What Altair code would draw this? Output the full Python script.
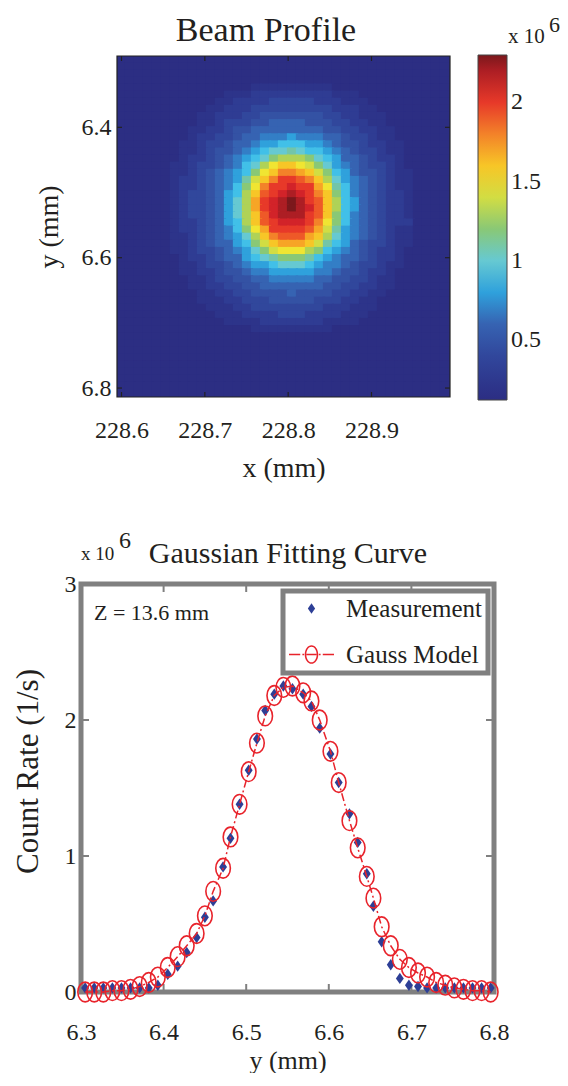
import altair as alt
import pandas as pd

FONT = "Liberation Serif"
INK = "#231f20"
FRAME_GREY = "#808080"
BLUE = "#2d3f96"
RED = "#e8232b"

# ---------------- Beam profile (heatmap) ----------------
beam_x = [228.6000, 228.6108, 228.6216, 228.6324, 228.6432, 228.6540, 228.6648,
          228.6756, 228.6864, 228.6972, 228.7080, 228.7188, 228.7296, 228.7404,
          228.7512, 228.7620, 228.7728, 228.7836, 228.7944, 228.8052, 228.8160,
          228.8268, 228.8376, 228.8484, 228.8592, 228.8700, 228.8808, 228.8916,
          228.9024, 228.9132, 228.9240, 228.9348, 228.9456, 228.9564, 228.9672,
          228.9780, 228.9888]
beam_y = [6.2960, 6.3069, 6.3178, 6.3287, 6.3396, 6.3505, 6.3614, 6.3723, 6.3832,
          6.3941, 6.4050, 6.4159, 6.4268, 6.4377, 6.4486, 6.4595, 6.4704, 6.4813,
          6.4922, 6.5031, 6.5140, 6.5249, 6.5358, 6.5467, 6.5576, 6.5685, 6.5794,
          6.5903, 6.6012, 6.6121, 6.6230, 6.6339, 6.6448, 6.6557, 6.6666, 6.6775,
          6.6884, 6.6993, 6.7102, 6.7211, 6.7320, 6.7429, 6.7538, 6.7647, 6.7756,
          6.7865, 6.7974, 6.8083]
# level code per cell: value = index in LEVEL_CODES x 1e5 counts/s
LEVEL_CODES = "0123456789abcdefghijklmn"
BACKGROUND_CODE = "1"
# (row index in beam_y, first column index in beam_x, codes of consecutive cells)
beam_spans = [
    (4, 15, "222222222"),
    (5, 12, "222333333333222"),
    (6, 11, "22333344444333222"),
    (7, 10, "2233344444444433322"),
    (8, 9, "223334455555554433222"),
    (9, 9, "223444556666555443322"),
    (10, 8, "22334556666666655443322"),
    (11, 8, "23344566777877766544322"),
    (12, 7, "2234456678899988765543322"),
    (13, 7, "2234556789aaba99876544322"),
    (14, 7, "233456789acdddca986654332"),
    (15, 6, "223445679adfggfeca87654432"),
    (16, 6, "223456789cfgiihgec986554322"),
    (17, 6, "23345678begikkjigda87654322"),
    (18, 6, "23345679cfikklkkhfb97654322"),
    (19, 6, "23445689dgjklmlkigc97654332"),
    (20, 6, "2344568adhklmnmkjgd98654332"),
    (21, 6, "2344568adhklmnmljgd98654332"),
    (22, 6, "2344568adgjlmmmkjgc97654332"),
    (23, 6, "23345689dgjklllkifc97654333"),
    (24, 6, "23345679cfhkkkkjheb87654322"),
    (25, 6, "22345678adgijjjhgda87654322"),
    (26, 6, "223456689ceghhhgeb986544322"),
    (27, 6, "223445678acefffdc987654332"),
    (28, 7, "233456689abcccb9876654332"),
    (29, 7, "22344567889aaa98776544322"),
    (30, 7, "223345567788888776554332"),
    (31, 8, "22344556677777665544322"),
    (32, 8, "22334455666666655443322"),
    (33, 9, "223344555565555443322"),
    (34, 9, "22233444555554443322"),
    (35, 10, "2223344444444333222"),
    (36, 11, "22233334443333222"),
    (37, 12, "222233333332222"),
    (38, 15, "222222222"),
]
beam_x_ticks = [228.6, 228.7, 228.8, 228.9]
beam_y_ticks = [6.4, 6.6, 6.8]
colorbar_ticks = [0.5, 1, 1.5, 2]

# jet-like colormap as printed in the figure (values in 1e6)
colour_stops = [0.12, 0.30, 0.50, 0.65, 0.78, 0.88, 0.98, 1.10, 1.22, 1.35,
                1.50, 1.65, 1.78, 1.92, 2.05, 2.18, 2.30]
colour_range = ["#2c2e83", "#2f3c93", "#3452a4", "#386cb8", "#2f9ad8", "#36bdec",
                "#69c9da", "#73c5a8", "#93c76a", "#c4d84a", "#f0e532", "#f8b627",
                "#f48a2a", "#ec5029", "#e3262a", "#b71f26", "#7b181c"]

# ---------------- Gaussian fitting curve ----------------
fit_pos = [6.305, 6.316, 6.327, 6.338, 6.349, 6.360, 6.371, 6.382,
           6.393, 6.405, 6.417, 6.428, 6.440, 6.450, 6.460, 6.472, 6.481, 6.492,
           6.503, 6.513, 6.523, 6.534, 6.545, 6.556, 6.569, 6.579, 6.589, 6.602,
           6.612, 6.625, 6.635, 6.646, 6.654, 6.664, 6.675, 6.686, 6.697,
           6.708, 6.719, 6.730, 6.741, 6.752, 6.763, 6.774, 6.785, 6.796]
meas_rate = [0.03, 0.03, 0.03, 0.03, 0.03, 0.03, 0.03, 0.03,
             0.05, 0.13, 0.19, 0.29, 0.40, 0.55, 0.67, 0.92, 1.13, 1.38,
             1.63, 1.86, 2.07, 2.19, 2.25, 2.23, 2.19, 2.10, 1.94, 1.75,
             1.54, 1.31, 1.10, 0.87, 0.63, 0.37, 0.20, 0.10, 0.05,
             0.04, 0.03, 0.03, 0.03, 0.03, 0.03, 0.03, 0.03, 0.03]
model_rate = [0.00, 0.00, 0.00, 0.01, 0.01, 0.02, 0.04, 0.07,
              0.11, 0.18, 0.26, 0.34, 0.43, 0.56, 0.74, 0.91, 1.14, 1.38,
              1.62, 1.83, 2.03, 2.18, 2.24, 2.25, 2.20, 2.14, 2.00, 1.77,
              1.54, 1.26, 1.06, 0.85, 0.69, 0.48, 0.34, 0.24, 0.18,
              0.14, 0.11, 0.07, 0.05, 0.03, 0.02, 0.01, 0.01, 0.00]
fit_x_ticks = [6.3, 6.4, 6.5, 6.6, 6.7, 6.8]
fit_inner_x_ticks = [6.4, 6.5, 6.6, 6.7]
fit_y_ticks = [0, 1, 2, 3]
fit_inner_y_ticks = [1, 2]
SERIES = ["Measurement", "Gauss Model"]

# ---------------- build tables ----------------
grid = [[BACKGROUND_CODE] * len(beam_x) for _ in beam_y]
for r, c0, codes in beam_spans:
    for k, ch in enumerate(codes):
        if c0 + k < len(beam_x):
            grid[r][c0 + k] = ch
hx = (beam_x[1] - beam_x[0]) / 2
hy = (beam_y[1] - beam_y[0]) / 2
SEAM = 1.25  # neighbouring cells overlap by ~1px so no anti-aliasing seams show
cells = []
for i, row in enumerate(grid):
    for j, ch in enumerate(row):
        cells.append({"x0": beam_x[j] - hx * SEAM, "x1": beam_x[j] + hx * SEAM,
                      "y0": beam_y[i] - hy * SEAM, "y1": beam_y[i] + hy * SEAM,
                      "v": LEVEL_CODES.index(ch) / 10})
heat_df = pd.DataFrame(cells)

meas_df = pd.DataFrame({"pos": fit_pos, "rate": meas_rate, "series": SERIES[0]})
model_df = pd.DataFrame({"pos": fit_pos, "rate": model_rate, "series": SERIES[1]})

W1, H1 = 333, 341
W2, H2 = 413, 408
SHIFT = 36  # bottom panel sits this many px left of the top panel's origin


def axis(**kw):
    base = dict(ticks=False, tickSize=0, domain=False, grid=False, labelFlush=False,
                labelFont=FONT, labelFontSize=24, labelColor=INK,
                titleFont=FONT, titleFontSize=28, titleFontWeight="normal",
                titleColor=INK)
    base.update(kw)
    return alt.Axis(**base)


def label(text, x, y, size, align="left"):
    return alt.Chart(pd.DataFrame({"t": [text]})).mark_text(
        font=FONT, fontSize=size, color=INK, align=align, baseline="alphabetic"
    ).encode(text="t:N", x=alt.value(x), y=alt.value(y))


# ---------------- top chart ----------------
x_lo, x_hi = beam_x[0] - hx, beam_x[-1] + hx
y_lo, y_hi = beam_y[0] - hy, beam_y[-1] + hy
xs1 = alt.Scale(domain=[x_lo, x_hi], nice=False, zero=False)
ys1 = alt.Scale(domain=[y_lo, y_hi], nice=False, zero=False, reverse=True)
cs = alt.Scale(domain=colour_stops, range=colour_range, clamp=True)
ax1 = axis(values=beam_x_ticks, format=".1f", title="x (mm)",
           labelPadding=21, titlePadding=12)
ay1 = axis(values=beam_y_ticks, format=".1f", title="y (mm)",
           labelPadding=6, titlePadding=18)

heat = alt.Chart(heat_df).mark_rect(strokeWidth=0, clip=True).encode(
    x=alt.X("x0:Q", scale=xs1, axis=ax1),
    x2="x1:Q",
    y=alt.Y("y0:Q", scale=ys1, axis=ay1),
    y2="y1:Q",
    color=alt.Color("v:Q", scale=cs, legend=alt.Legend(
        orient="none", legendX=361, legendY=-1, direction="vertical",
        gradientLength=345, gradientThickness=29, values=colorbar_ticks,
        format="~g", labelFont=FONT, labelFontSize=24, labelColor=INK,
        labelOffset=4, gradientStrokeColor="#444", gradientStrokeWidth=1,
        title=None)),
)
heat_frame = alt.Chart(pd.DataFrame({"f": [0]})).mark_rect(
    fillOpacity=0, stroke="#222", strokeWidth=1.2
).encode(x=alt.datum(x_lo), x2=alt.datum(x_hi), y=alt.datum(y_lo), y2=alt.datum(y_hi))

bx = pd.DataFrame({"x0": beam_x_ticks})
by = pd.DataFrame({"y0": beam_y_ticks})
tick_style = dict(color="#222", strokeWidth=1.2)
beam_ticks = [
    alt.Chart(bx).mark_rule(**tick_style).encode(
        x=alt.X("x0:Q", scale=xs1, axis=ax1), y=alt.value(H1), y2=alt.value(H1 - 5)),
    alt.Chart(bx).mark_rule(**tick_style).encode(
        x=alt.X("x0:Q", scale=xs1, axis=ax1), y=alt.value(0), y2=alt.value(5)),
    alt.Chart(by).mark_rule(**tick_style).encode(
        y=alt.Y("y0:Q", scale=ys1, axis=ay1), x=alt.value(0), x2=alt.value(5)),
    alt.Chart(by).mark_rule(**tick_style).encode(
        y=alt.Y("y0:Q", scale=ys1, axis=ay1), x=alt.value(W1), x2=alt.value(W1 - 5)),
]

top = alt.layer(
    heat, heat_frame, *beam_ticks,
    label("Beam Profile", 149, -15, 34, "center"),
    label("x 10", 391, -13, 21),
    label("6", 432, -24, 22),
).properties(width=W1, height=H1, view=alt.ViewBackground(strokeWidth=0))

# ---------------- bottom chart ----------------
xs2 = alt.Scale(domain=[6.3, 6.8], range=[-SHIFT, W2 - SHIFT], nice=False, zero=False)
ys2 = alt.Scale(domain=[0, 3], nice=False, zero=False)
cs2 = alt.Scale(domain=SERIES, range=[BLUE, RED])
ax2 = axis(values=fit_x_ticks, format=".1f", title="y (mm)",
           labelPadding=28, titlePadding=3, titleFontSize=26)
ay2 = axis(values=fit_y_ticks, format="d", title="Count Rate (1/s)", offset=SHIFT,
           labelPadding=5, titlePadding=20, titleFontSize=31, titleY=187)

DIAMOND = "M0,-1.3L0.9,0L0,1.3L-0.9,0Z"
ELLIPSE = "M-1,0A1,1.35 0 1,1 1,0A1,1.35 0 1,1 -1,0Z"
LEG_DIAMOND = "M0,-0.6L0.42,0L0,0.6L-0.42,0Z"
LEG_MODEL = ("M-2.6,-0.09H-1.3V0.09H-2.6Z"
             "M-1.05,-0.09H-0.85V0.09H-1.05Z"
             "M-0.78,0A0.78,1.08 0 1,1 0.78,0A0.78,1.08 0 1,1 -0.78,0Z"
             "M-0.6,0A0.6,0.9 0 1,0 0.6,0A0.6,0.9 0 1,0 -0.6,0Z"
             "M-0.58,-0.09H0.58V0.09H-0.58Z"
             "M0.85,-0.09H1.05V0.09H0.85Z"
             "M1.3,-0.09H2.6V0.09H1.3Z")
fit_legend = alt.Legend(
    orient="none", legendX=166, legendY=535, title=None,
    labelFont=FONT, labelFontSize=25, labelColor=INK,
    symbolSize=300, symbolStrokeWidth=0, rowPadding=20, padding=5,
    symbolOffset=11, labelOffset=22,
    strokeColor=FRAME_GREY, fillColor="white",
)

xenc = alt.X("pos:Q", scale=xs2, axis=ax2)
yenc = alt.Y("rate:Q", scale=ys2, axis=ay2)
cenc = alt.Color("series:N", scale=cs2, legend=None)

frame = alt.Chart(pd.DataFrame({"f": [0]})).mark_rect(
    fill="white", stroke=FRAME_GREY, strokeWidth=5
).encode(x=alt.datum(fit_x_ticks[0]), x2=alt.datum(fit_x_ticks[-1]),
         y=alt.datum(fit_y_ticks[0]), y2=alt.datum(fit_y_ticks[-1]))

meas = alt.Chart(meas_df).mark_point(
    filled=True, shape=DIAMOND, size=77, opacity=1, strokeWidth=0
).encode(x=xenc, y=yenc, color=cenc)
model_line = alt.Chart(model_df).mark_line(
    strokeWidth=1.5, strokeDash=[8, 3, 2, 3]
).encode(x=xenc, y=yenc, color=cenc)
model_pts = alt.Chart(model_df).mark_point(
    filled=False, shape=ELLIPSE, size=213, opacity=1, strokeWidth=1.6
).encode(x=xenc, y=yenc, color=cenc)
# legend-only layer (draws no marks): fill + shape give coloured legend symbols
legend_layer = alt.Chart(meas_df).mark_point(filled=True, opacity=1, strokeWidth=0).encode(
    x=xenc, y=yenc,
    fill=alt.Fill("series:N", scale=cs2, legend=fit_legend),
    shape=alt.Shape("series:N", scale=alt.Scale(domain=SERIES,
                                                range=[LEG_DIAMOND, LEG_MODEL]),
                    legend=fit_legend),
).transform_filter("false")

fx = pd.DataFrame({"pos": fit_inner_x_ticks})
fy = pd.DataFrame({"rate": fit_inner_y_ticks})
gt = dict(color=FRAME_GREY, strokeWidth=2)
fit_ticks = [
    alt.Chart(fx).mark_rule(**gt).encode(x=xenc, y=alt.value(H2), y2=alt.value(H2 - 8)),
    alt.Chart(fx).mark_rule(**gt).encode(x=xenc, y=alt.value(0), y2=alt.value(8)),
    alt.Chart(fy).mark_rule(**gt).encode(
        y=yenc, x=alt.value(-SHIFT), x2=alt.value(-SHIFT + 8)),
    alt.Chart(fy).mark_rule(**gt).encode(
        y=yenc, x=alt.value(W2 - SHIFT), x2=alt.value(W2 - SHIFT - 8)),
]

bottom = alt.layer(
    frame, *fit_ticks, meas, model_line, model_pts, legend_layer,
    label("Gaussian Fitting Curve", 171, -21, 30, "center"),
    label("x 10", -SHIFT, -24, 19),
    label("6", 2, -36, 24),
    label("Z = 13.6 mm", -23, 36, 22),
).properties(width=W2 - SHIFT, height=H2,
             view=alt.ViewBackground(strokeWidth=0))

chart = alt.vconcat(top, bottom, spacing=47).properties(
    padding={"left": 4, "top": 6, "right": 0, "bottom": 0},
    background="white",
).configure(font=FONT).configure_legend(strokeWidth=5)

chart.save("out.html", embed_options={"renderer": "svg", "actions": False})
